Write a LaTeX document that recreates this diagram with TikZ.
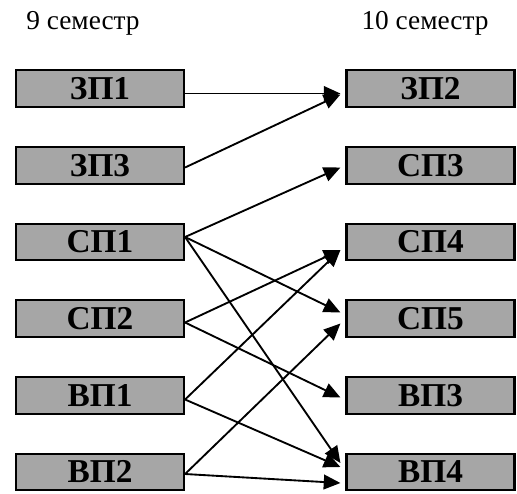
\documentclass[tikz,border=0pt]{standalone}
\usepackage{fontspec}
\setmainfont{Liberation Serif}
\usetikzlibrary{arrows.meta,calc}
\definecolor{boxgray}{RGB}{166,166,166}
\begin{document}
\begin{tikzpicture}[x=0.75pt,y=-0.75pt,
    subj/.style={draw,line width=1.6pt,fill=boxgray,minimum width=126pt,minimum height=27.5pt,inner sep=0pt,font=\fontsize{25}{25}\selectfont\bfseries},
    sem/.style={anchor=base,font=\fontsize{20.5}{20.5}\selectfont},
    link/.style={line width=1.4pt,-{Triangle[length=12.5pt,width=11pt]}}]
  \useasboundingbox (0,0) rectangle (517,493);
      \node[sem] (s9)  at ( 83,29) {9 семестр};
      \node[sem] (s10) at (425,29) {10 семестр};
      \node[subj] (zp1) at (100, 88.5) {ЗП1};
      \node[subj] (zp3) at (100,165.5) {ЗП3};
      \node[subj] (sp1) at (100,242)   {СП1};
      \node[subj] (sp2) at (100,318.5) {СП2};
      \node[subj] (vp1) at (100,395.5) {ВП1};
      \node[subj] (vp2) at (100,472)   {ВП2};
      \node[subj] (zp2) at (430.5, 88.5) {ЗП2};
      \node[subj] (sp3) at (430.5,165.5) {СП3};
      \node[subj] (sp4) at (430.5,242)   {СП4};
      \node[subj] (sp5) at (430.5,318.5) {СП5};
      \node[subj] (vp3) at (430.5,395.5) {ВП3};
      \node[subj] (vp4) at (430.5,472)   {ВП4};
      \draw[link] ($(zp1.east)+(0,5)$)  -- ($(zp2.west)+(-5,5)$);
      \draw[link] ($(zp3.east)+(0,2)$)  -- ($(zp2.west)+(-5,6)$);
      \draw[link] ($(sp1.east)+(0,-5)$) -- ($(sp3.west)+(-5,2)$);
      \draw[link] ($(sp1.east)+(0,-5)$) -- ($(sp5.west)+(-5,-6)$);
      \draw[link] ($(sp1.east)+(0,-5)$) -- ($(vp4.west)+(-5,-9)$);
      \draw[link] ($(sp2.east)+(0,4)$)  -- ($(sp4.west)+(-5,8)$);
      \draw[link] ($(sp2.east)+(0,4)$)  -- ($(vp3.west)+(-5,2)$);
      \draw[link] ($(vp1.east)+(0,4)$)  -- ($(sp4.west)+(-5,8)$);
      \draw[link] ($(vp1.east)+(0,4)$)  -- ($(vp4.west)+(-5,-5)$);
      \draw[link] ($(vp2.east)+(0,2)$)  -- ($(sp5.west)+(-5,5)$);
      \draw[link] ($(vp2.east)+(0,2)$)  -- ($(vp4.west)+(-5,11)$);
    \end{tikzpicture}
\end{document}
